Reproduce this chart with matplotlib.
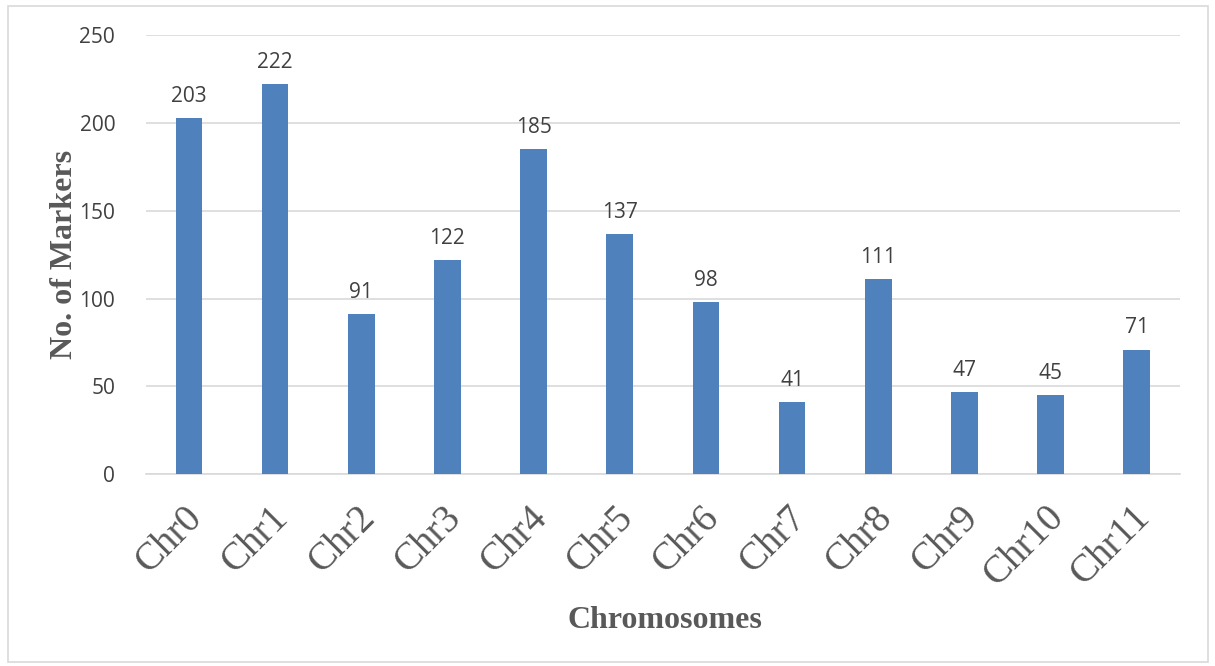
import matplotlib

matplotlib.use("Agg")
import matplotlib.pyplot as plt
import matplotlib.transforms as mtransforms
from matplotlib.patches import Rectangle

chromosomes = ["Chr0", "Chr1", "Chr2", "Chr3", "Chr4", "Chr5",
               "Chr6", "Chr7", "Chr8", "Chr9", "Chr10", "Chr11"]
markers = [203, 222, 91, 122, 185, 137, 98, 41, 111, 47, 45, 71]
y_ticks = [0, 50, 100, 150, 200, 250]

GRAY = "#595959"
BAR = "#4F81BD"

fig = plt.figure(figsize=(12.15, 6.66), dpi=100)
ax = fig.add_axes([0.120, 0.288, 0.851, 0.659])

x = list(range(len(chromosomes)))
bars = ax.bar(x, markers, width=0.31, color=BAR, zorder=3)
for b, v in zip(bars, markers):
    ax.annotate(str(v), (b.get_x() + b.get_width() / 2, v),
                xytext=(0, 8), textcoords="offset points",
                ha="center", va="bottom", fontsize=15,
                family="Open Sans", color="#404040")

ax.set_xlim(-0.5, len(chromosomes) - 0.5)
ax.set_ylim(0, 250)
ax.set_yticks(y_ticks)
ax.yaxis.grid(True, color="#D9D9D9", linewidth=1.2, zorder=0)
for s in ["top", "right", "left"]:
    ax.spines[s].set_visible(False)
ax.spines["bottom"].set_color("#D9D9D9")
ax.spines["bottom"].set_linewidth(1.2)
ax.tick_params(axis="both", length=0)
ax.tick_params(axis="y", pad=22)

for lab in ax.get_yticklabels():
    lab.set_family("Open Sans")
    lab.set_fontsize(15)
    lab.set_color("#404040")

ax.set_xticks(x)
ax.set_xticklabels(chromosomes, rotation=45, ha="right", va="top",
                   rotation_mode="anchor", family="Liberation Serif",
                   fontsize=28, color=GRAY)
ax.tick_params(axis="x", pad=12)
shift = mtransforms.ScaledTranslation(-5 / 100, -8 / 100, fig.dpi_scale_trans)
for lab in ax.get_xticklabels():
    lab.set_transform(lab.get_transform() + shift)

ax.set_ylabel("No. of Markers", family="Liberation Serif", fontsize=23,
              fontweight="bold", color=GRAY, labelpad=0)
fig.text(0.547, 0.068, "Chromosomes", family="Liberation Serif", fontsize=23,
         fontweight="bold", color=GRAY, ha="center", va="center")

fig.patches.append(Rectangle((8 / 1215, 4 / 666), 1200 / 1215, 656 / 666,
                             transform=fig.transFigure, fill=False,
                             edgecolor="#D9D9D9", linewidth=1.2))

fig.savefig("out.png", dpi=100)
plt.close(fig)
